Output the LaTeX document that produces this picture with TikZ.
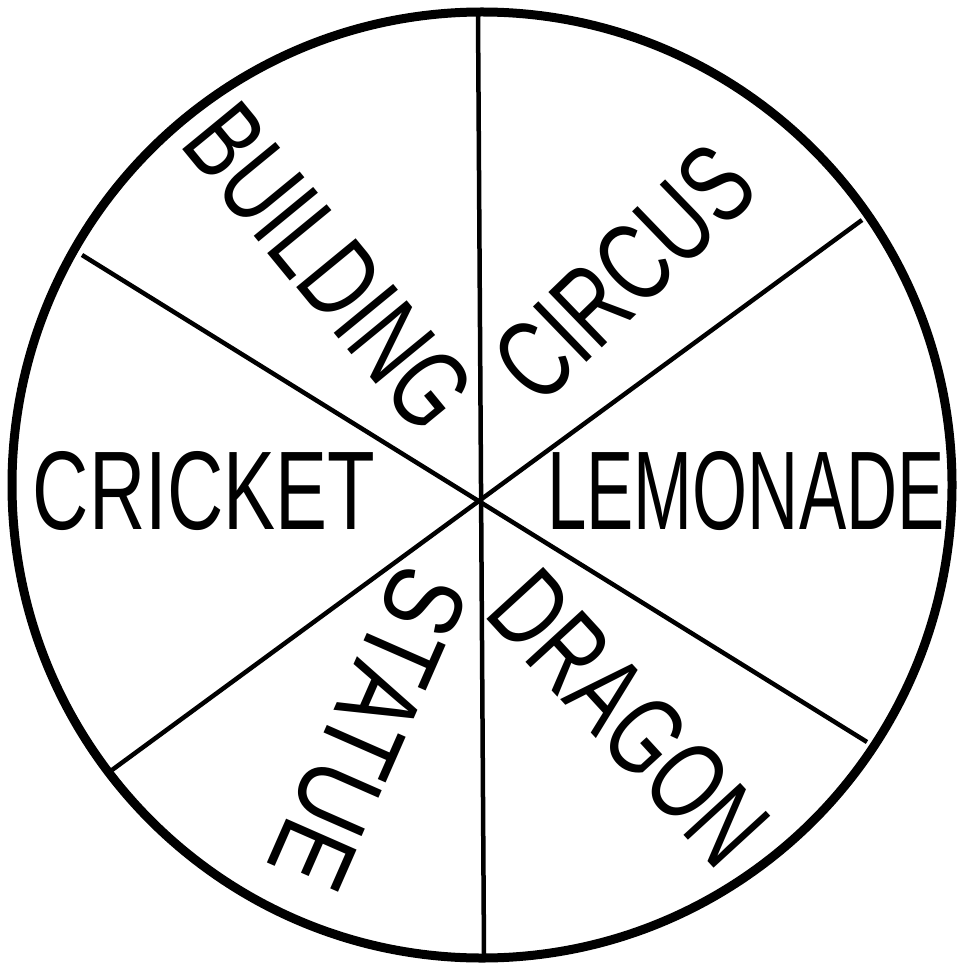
\documentclass[tikz,border=0pt]{standalone}
\usepackage{fontspec}
\setmainfont{Liberation Sans}
\usepackage{graphicx}
\tikzset{
  rim/.style={line width=9pt},
  spoke/.style={line width=4.5pt},
  word/.style={inner sep=0pt, outer sep=0pt}
}
\newcommand{\wordbox}[3]{\resizebox{#1pt}{#2pt}{#3}}
\begin{document}
\begin{tikzpicture}[x=1pt,y=-1pt]
\useasboundingbox (0,0) rectangle (958,965);
\fill[white] (0,0) rectangle (958,965);
% rim
\draw[rim] (482,485) ellipse (470pt and 473pt);
% spoke end points
\coordinate (top) at (478,15);
\coordinate (bot) at (484,955);
\coordinate (ul) at (82,255);
\coordinate (lr) at (867,742);
\coordinate (ur) at (862,220);
\coordinate (ll) at (112,770);
\draw[spoke] (top) -- (bot);
\draw[spoke] (ul) -- (lr);
\draw[spoke] (ur) -- (ll);
% words
\node[word] (cricket) at (204,491) {\wordbox{342}{78}{CRICKET}};
\node[word] (lemonade) at (746,491) {\wordbox{397}{78}{LEMONADE}};
\node[word, rotate=-50.6] (building) at (329,267) {\wordbox{380}{78}{BUILDING}};
\node[word, rotate=44] (circus) at (624,273) {\wordbox{310}{78}{CIRCUS}};
\node[word, rotate=-47.5] (dragon) at (629,718) {\wordbox{350}{78}{DRAGON}};
\node[word, rotate=-113.7] (statue) at (368,728) {\wordbox{335}{78}{STATUE}};
\end{tikzpicture}
\end{document}
